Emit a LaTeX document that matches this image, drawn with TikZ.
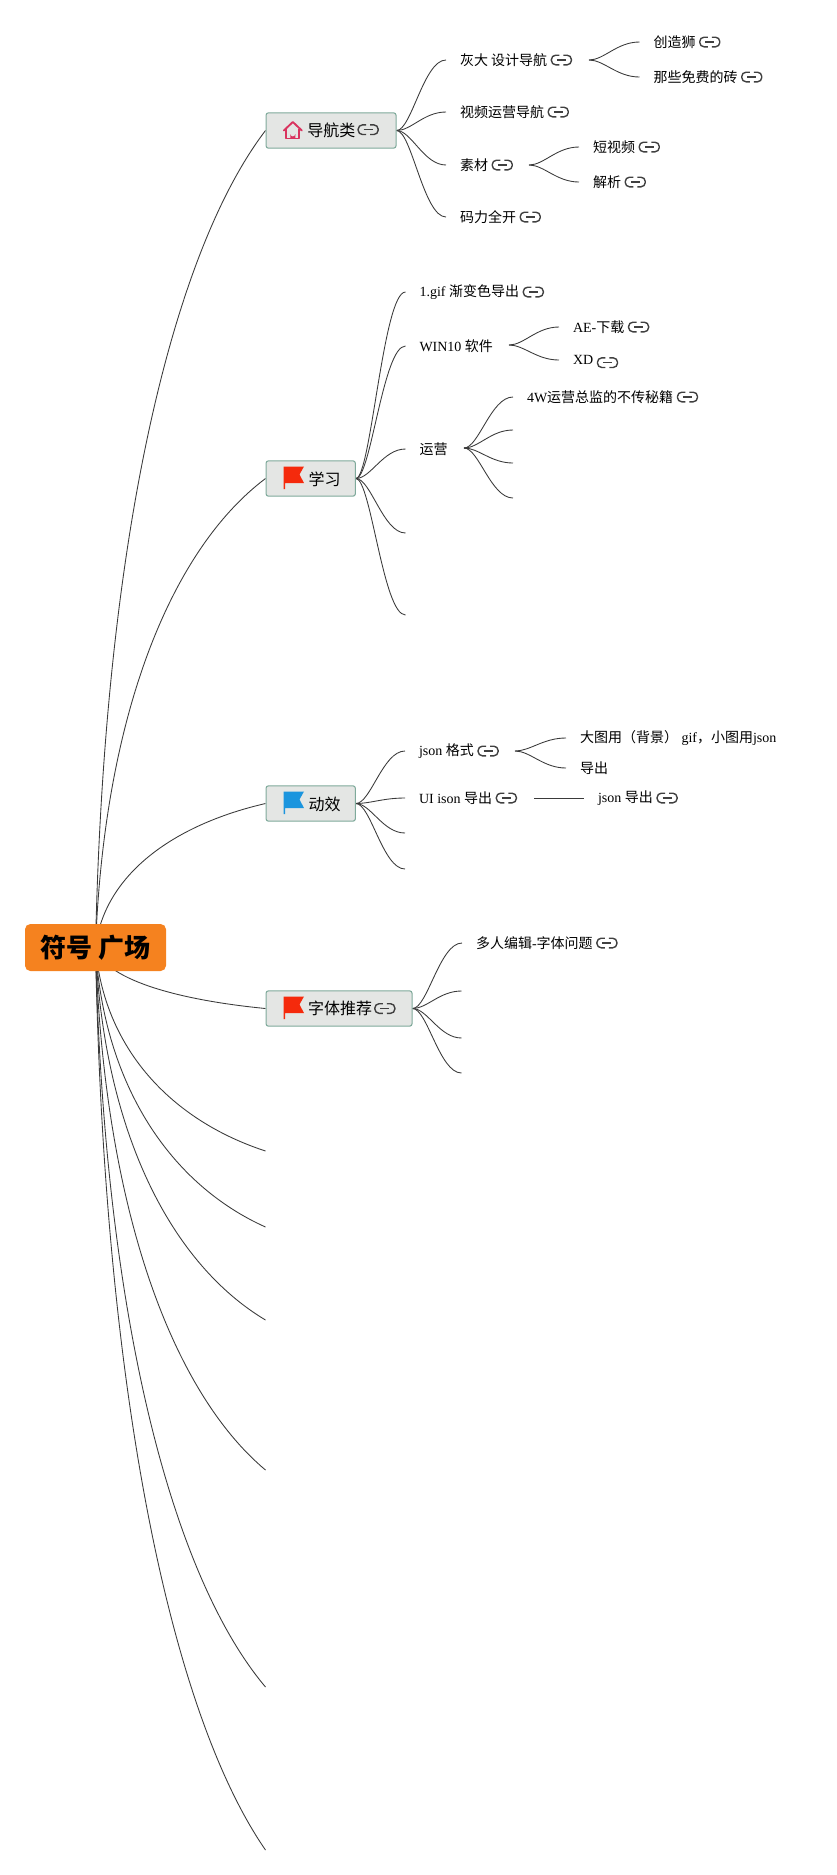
\documentclass[tikz,border=0pt]{standalone}
\usepackage{fontspec}
\setmainfont{Liberation Serif}
\newfontfamily\zhf{Noto Sans CJK SC}
\newcommand\zh[1]{{\zhf #1}}
\usetikzlibrary{calc}
\pgfdeclarelayer{bg}
\pgfsetlayers{bg,main}
\definecolor{linec}{HTML}{3A3A3A}
\definecolor{iconc}{HTML}{404040}
\definecolor{topicf}{HTML}{E4E6E4}
\definecolor{topicd}{HTML}{7FAA9B}
\definecolor{rootf}{HTML}{F5821F}
\definecolor{flagr}{HTML}{F52A0C}
\definecolor{flagb}{HTML}{1B95DE}
\definecolor{housec}{HTML}{D9345F}
\tikzset{
  x=0.75pt,y=-0.75pt,
  conn/.style={draw=linec,line width=0.65pt},
  rootbox/.style={fill=rootf,rounded corners=4pt,minimum width=105.75pt,minimum height=35.25pt,inner sep=0pt,font=\zhf\bfseries\fontsize{19.5}{23}\selectfont},
  topic/.style={draw=topicd,fill=topicf,line width=0.8pt,rounded corners=1.8pt,minimum height=26.5pt,inner sep=0pt,anchor=west,font=\fontsize{12}{14}\selectfont},
  lowtext/.style={text height=11pt,text depth=0pt},
  txt/.style={anchor=west,inner ysep=0pt,inner xsep=10.3pt,font=\fontsize{10.5}{12.6}\selectfont},
  lk/.pic={
    \draw[iconc,line width=1.05pt,rounded corners=3.2pt] (-2,-4.8) -- (-10,-4.8) -- (-10,4.8) -- (-2,4.8);
    \draw[iconc,line width=1.05pt,rounded corners=3.2pt] (2,-4.8) -- (10,-4.8) -- (10,4.8) -- (2,4.8);
    \draw[iconc,line width=1.05pt] (-4.5,0) -- (4.5,0);
  },
  flagpic/.pic={
    \fill[pic actions] (-10,-12) -- (-8.5,-12) -- (10.5,-12) -- (6,-4) -- (10.5,4.5) -- (-8.5,4.5) -- (-8.5,10.5) -- (-10,10.5) -- cycle;
  },
  housepic/.pic={
    \draw[housec,line width=1.4pt,line join=round,line cap=round] (-9,0) -- (0,-8.5) -- (9,0);
    \draw[housec,line width=1.4pt,line join=round] (-6.5,-2) -- (-6.5,8) -- (6.5,8) -- (6.5,-2);
    \fill[housec] (-2.5,8) -- (-2.5,3.5) arc[start angle=180,end angle=0,radius=2.5] -- (2.5,8) -- cycle;
  },
}
% fan connector, S shaped
\newcommand\fan[2]{\draw[conn] (#1) let \p1=(#1),\p2=(#2) in .. controls ({.7*\x1+.3*\x2},\y1) and ({.45*\x1+.55*\x2},\y2) .. (#2);}
% long connector from the central topic
\newcommand\arm[2]{\draw[conn] (#1) let \p1=(#1),\p2=(#2) in .. controls ({\x1+.05*(\x2-\x1)},{\y1+.5*(\y2-\y1)}) and ({\x1+.45*(\x2-\x1)},{\y1+.85*(\y2-\y1)}) .. (#2);}
\newcommand\lnk[1]{\pic at ([xshift=0.2pt]#1.east) {lk};}
\begin{document}
\begin{tikzpicture}
\useasboundingbox (0,0) rectangle (837,1875);
% central topic
\node[rootbox] (root) at (95.5,947.5) {符号 广场};
% main topics
\node[topic] (nav) at (265.5,130.5) {\hspace*{31pt}\zh{导航类}\hspace*{30.5pt}};
\node[topic,lowtext] (xue) at (265.5,478.5) {\hspace*{32pt}\zh{学习}\hspace*{11pt}};
\node[topic,lowtext] (dong) at (265.5,803.5) {\hspace*{32pt}\zh{动效}\hspace*{11pt}};
\node[topic] (font) at (265.5,1008.5) {\hspace*{31.5pt}\zh{字体推荐}\hspace*{30pt}};
\pic at ([xshift=20.5pt]nav.west) {housepic};
\pic[flagr] at ([xshift=21pt]xue.west) {flagpic};
\pic[flagb] at ([xshift=21pt]dong.west) {flagpic};
\pic[flagr] at ([xshift=21pt]font.west) {flagpic};
\pic at ([xshift=77pt,yshift=0.6pt]nav.west) {lk};
\pic at ([xshift=89.5pt]font.west) {lk};
% free ends of the central topic
\coordinate (e1) at (265.5,1151);
\coordinate (e2) at (265.5,1227);
\coordinate (e3) at (265.5,1320);
\coordinate (e4) at (265.5,1470);
\coordinate (e5) at (265.5,1687);
\coordinate (e6) at (265.5,1850);
% nav
\node[txt] (n1) at (446,60) {\zh{灰大 设计导航}};
\node[txt] (n2) at (446,112) {\zh{视频运营导航}};
\node[txt] (n3) at (446,165) {\zh{素材}};
\node[txt] (n4) at (446,217) {\zh{码力全开}};
\coordinate (n1o) at (589,60);
\coordinate (n3o) at (529,165);
\node[txt] (n11) at (639.5,42) {\zh{创造狮}};
\node[txt] (n12) at (639.5,77) {\zh{那些免费的砖}};
\node[txt] (n31) at (579,147) {\zh{短视频}};
\node[txt] (n32) at (579,182) {\zh{解析}};
% study
\node[txt] (x1) at (405.5,292) {1.gif \zh{渐变色导出}};
\node[txt] (x2) at (405.5,346) {WIN10 \zh{软件}};
\node[txt] (x3) at (405.5,449) {\zh{运营}};
\coordinate (x4) at (405.5,533);
\coordinate (x5) at (405.5,615);
\coordinate (x2o) at (509,345);
\coordinate (x3o) at (464,448);
\node[txt] (x21) at (559,327) {AE-\zh{下载}};
\node[txt] (x22) at (559,360) {XD};
\node[txt] (x31) at (513,397) {4W\zh{运营总监的不传秘籍}};
\coordinate (x32) at (513,430);
\coordinate (x33) at (513,463);
\coordinate (x34) at (513,498);
% motion
\node[txt] (d1) at (405,751) {json \zh{格式}};
\node[txt] (d2) at (405,798) {UI ison \zh{导出}};
\coordinate (d3) at (405,833);
\coordinate (d4) at (405,869);
\coordinate (d1o) at (515,751);
\coordinate (d2o) at (534,798);
\node[txt] (d11) at (566,738) {\zh{大图用（背景）} gif\zh{，小图用}json};
\node[txt] (d12) at (566,768) {\zh{导出}};
\node[txt] (d21) at (584,798) {json \zh{导出}};
% fonts
\node[txt] (f1) at (462,943) {\zh{多人编辑}-\zh{字体问题}};
\coordinate (f2) at (461.5,991);
\coordinate (f3) at (461.5,1038);
\coordinate (f4) at (461.5,1073);
% link icons
\foreach \n in {n1,n2,n3,n4,n11,n12,n31,n32,x1,x21,x31,d1,d2,d21,f1} {\lnk{\n}}
\pic at ([xshift=0.2pt,yshift=-2pt]x22.east) {lk};
% connectors
\begin{pgfonlayer}{bg}
\arm{root.center}{nav.west}
\arm{root.center}{xue.west}
\arm{root.center}{dong.west}
\arm{root.center}{font.west}
\arm{root.center}{e1}
\arm{root.center}{e2}
\arm{root.center}{e3}
\arm{root.center}{e4}
\arm{root.center}{e5}
\arm{root.center}{e6}
\fan{nav.east}{n1.west}
\fan{nav.east}{n2.west}
\fan{nav.east}{n3.west}
\fan{nav.east}{n4.west}
\fan{n1o}{n11.west}
\fan{n1o}{n12.west}
\fan{n3o}{n31.west}
\fan{n3o}{n32.west}
\fan{xue.east}{x1.west}
\fan{xue.east}{x2.west}
\fan{xue.east}{x3.west}
\fan{xue.east}{x4}
\fan{xue.east}{x5}
\fan{x2o}{x21.west}
\fan{x2o}{x22.west}
\fan{x3o}{x31.west}
\fan{x3o}{x32}
\fan{x3o}{x33}
\fan{x3o}{x34}
\fan{dong.east}{d1.west}
\fan{dong.east}{d2.west}
\fan{dong.east}{d3}
\fan{dong.east}{d4}
\fan{d1o}{d11.west}
\fan{d1o}{d12.west}
\draw[conn] (d2o) -- (d21.west);
\fan{font.east}{f1.west}
\fan{font.east}{f2}
\fan{font.east}{f3}
\fan{font.east}{f4}
\end{pgfonlayer}
\end{tikzpicture}
\end{document}
